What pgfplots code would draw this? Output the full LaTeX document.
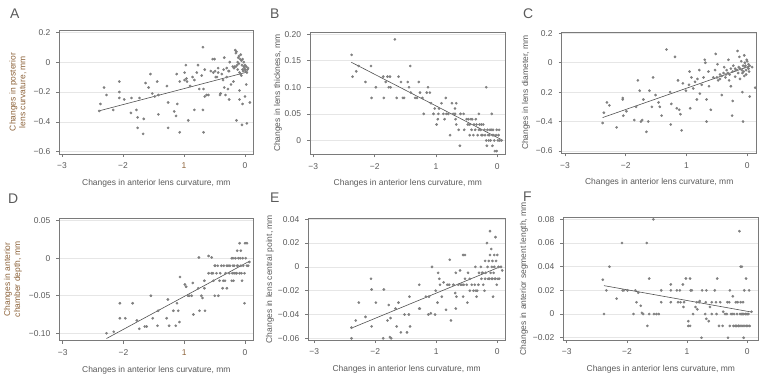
\documentclass[border=0pt]{standalone}
\usepackage{pgfplots}
\pgfplotsset{compat=1.18}
\usepackage{fontspec}
\setmainfont{Liberation Sans}
\definecolor{txt}{HTML}{5A5A5A}
\definecolor{lab}{HTML}{8C6239}
\definecolor{pt}{HTML}{7F7F7F}
\definecolor{framec}{HTML}{7A7A7A}
\definecolor{gridc}{HTML}{E6E6E6}
\definecolor{fitc}{HTML}{505050}
\pgfplotsset{
 panel/.style={
  scale only axis, anchor=south west, scaled ticks=false,
  axis line style={framec, line width=0.6bp},
  tick pos=left, tick align=outside,
  major tick length=3bp,
  every tick/.style={framec, line width=0.6bp},
  ymajorgrids, grid style={gridc, line width=0.6bp},
  xtick={-3,-2,-1,0},
  xticklabels={−3,−2,1,0},
  tick label style={font=\fontsize{8.5}{10}\selectfont, text=txt},
  xticklabel style={yshift=-2.5bp},
  yticklabel style={xshift=-2.5bp},
  label style={font=\fontsize{8.5}{10}\selectfont, text=txt},
  xlabel={Changes in anterior lens curvature, mm},
  xlabel style={at={(axis description cs:0.5,0)}, anchor=base, yshift=-31.5bp},
 },
 pts/.style={only marks, mark=*, mark size=1.15bp, color=pt, mark options={draw=pt, fill=pt}},
 fitl/.style={no marks, color=fitc, line width=0.6bp},
}
\begin{document}
\begin{tikzpicture}
\useasboundingbox (0bp,0bp) rectangle (768bp,387bp);
\tikzset{letter/.style={anchor=base west, inner sep=0pt, font=\fontsize{14}{14}\selectfont, text=txt}}
\node[letter] at (10bp,368.7bp) {A};
\node[letter] at (270bp,368.7bp) {B};
\node[letter] at (523bp,368.7bp) {C};
\node[letter] at (8bp,183.7bp) {D};
\node[letter] at (270bp,184.7bp) {E};
\node[letter] at (523bp,185.3bp) {F};

% ---------------- A
\begin{axis}[panel, at={(59.3bp,233bp)}, width=194bp, height=124bp,
  xmin=-3.044, xmax=0.136, ymin=-0.615, ymax=0.215,
  xticklabels={−3,−2,\textcolor{lab}{1},0},
  ytick={-0.6,-0.4,-0.2,0,0.2}, yticklabels={−0.6,−0.4,−0.2,0,0.2},
  ylabel={Changes in posterior\\lens curvature, mm},
  ylabel style={at={(axis description cs:-0.213,0.5)}, anchor=center, align=center, text=lab}]
\addplot[pts] coordinates {
(-2.39,-0.327) (-2.37,-0.28) (-2.31,-0.17) (-2.27,-0.22) (-2.16,-0.32) (-2.06,-0.13) (-2.06,-0.20) (-2.06,-0.24)
(-1.98,-0.25) (-1.86,-0.24) (-1.87,-0.34) (-1.78,-0.32) (-1.76,-0.37) (-1.76,-0.44) (-1.73,-0.24) (-1.67,-0.48)
(-1.66,-0.38) (-1.63,-0.14) (-1.58,-0.17) (-1.55,-0.08) (-1.52,-0.21) (-1.48,-0.23) (-1.44,-0.13) (-1.42,-0.22)
(-1.42,-0.35) (-1.28,-0.16) (-1.26,-0.27) (-1.26,-0.44) (-1.16,-0.33) (-1.13,-0.36) (-1.11,-0.28) (-1.12,-0.08)
(-1.07,-0.13) (-1.07,-0.47) (-0.99,-0.07) (-0.99,-0.12) (-0.97,-0.02) (-0.96,-0.11) (-0.95,-0.13) (-0.93,-0.39)
(-0.90,-0.16) (-0.86,-0.10) (-0.83,-0.12) (-0.83,-0.32) (-0.79,-0.07) (-0.77,-0.02) (-0.75,-0.18) (-0.71,-0.09)
(-0.69,0.10) (-0.69,-0.32) (-0.68,-0.18) (-0.68,-0.47) (-0.66,-0.23) (-0.63,-0.22) (-0.60,-0.22) (-0.66,-0.05)
(-0.56,-0.06) (-0.53,0.02) (-0.52,-0.07) (-0.50,0.02) (-0.49,-0.06) (-0.48,-0.10) (-0.46,-0.10) (-0.44,-0.07)
(-0.44,-0.04) (-0.41,-0.22) (-0.40,-0.21) (-0.36,-0.12) (-0.34,0.03) (-0.34,-0.17) (-0.32,-0.22) (-0.30,-0.10)
(-0.28,-0.18) (-0.26,-0.25) (-0.26,-0.06) (-0.23,-0.15) (-0.25,0.00) (-0.19,-0.13) (-0.17,-0.03) (-0.16,0.08)
(-0.15,0.06) (-0.14,-0.39) (-0.11,0.03) (-0.09,-0.19) (-0.07,0.05) (-0.05,-0.42) (-0.04,-0.28) (0.00,-0.23)
(0.02,-0.15) (0.03,-0.41) (0.08,-0.27) (-0.09,-0.25)
(-0.20,-0.03) (-0.18,-0.04) (-0.15,-0.03) (-0.13,-0.02) (-0.12,0.00) (-0.10,-0.01) (-0.08,0.02) (-0.06,0.01)
(-0.05,-0.02) (-0.04,-0.05) (-0.03,-0.06) (-0.02,-0.03) (-0.01,-0.04) (0.00,-0.05) (0.01,-0.06) (0.02,-0.03)
(0.03,-0.07) (-0.07,-0.08) (-0.09,-0.07) (0.04,-0.05) (-0.12,-0.05) (-0.30,-0.04) (-0.35,-0.05) (-0.38,-0.08)
(-0.27,-0.06) (-0.10,0.04) (-0.14,0.07) (-0.02,0.00) (0.00,-0.02) (0.05,-0.04) (-0.06,-0.09) (-0.04,0.02)
};
\addplot[fitl] coordinates {(-2.38,-0.325) (0.05,-0.065)};
\end{axis}

% ---------------- B
\begin{axis}[panel, at={(310bp,232.7bp)}, width=195.7bp, height=121.8bp,
  xmin=-3.054, xmax=0.137, ymin=-0.026, ymax=0.203,
  ytick={0,0.05,0.10,0.15,0.20}, yticklabels={0,0.05,0.10,0.15,0.20},
  ylabel={Changes in lens thickness, mm},
  ylabel style={at={(axis description cs:-0.1635,0.5)}, anchor=center}]
\addplot[pts] coordinates {
(-2.375,0.161) (-2.36,0.12) (-2.30,0.13) (-2.26,0.14) (-2.15,0.11) (-2.06,0.14) (-2.05,0.08) (-1.98,0.10)
(-1.86,0.12) (-1.85,0.08) (-1.82,0.11) (-1.79,0.12) (-1.77,0.10) (-1.75,0.12) (-1.74,0.10) (-1.67,0.19)
(-1.64,0.08) (-1.61,0.12) (-1.57,0.11) (-1.54,0.08) (-1.52,0.08) (-1.46,0.11) (-1.44,0.10) (-1.42,0.14)
(-1.41,0.09) (-1.34,0.08) (-1.31,0.08) (-1.28,0.11) (-1.26,0.09) (-1.22,0.08) (-1.20,0.05) (-1.15,0.09)
(-1.13,0.10) (-1.10,0.09) (-1.08,0.07) (-1.04,0.05) (-1.02,0.06) (-0.99,0.03) (-0.97,0.04) (-0.96,0.05)
(-0.95,0.06) (-0.91,0.07) (-0.88,0.05) (-0.86,0.04) (-0.84,0.08) (-0.83,0.05) (-0.80,0.05) (-0.77,0.01)
(-0.74,0.07) (-0.72,0.05) (-0.69,0.05) (-0.69,0.06) (-0.67,0.07) (-0.68,0.04) (-0.67,0.03) (-0.61,-0.01)
(-0.55,0.05) (-0.54,0.02) (-0.50,0.04) (-0.47,0.04) (-0.45,0.03) (-0.45,0.01) (-0.42,0.02) (-0.41,0.04)
(-0.39,0.01) (-0.36,0.02) (-0.35,0.04) (-0.34,0.03) (-0.32,0.01) (-0.30,0.05) (-0.29,0.03) (-0.27,0.02)
(-0.26,0.03) (-0.26,0.01) (-0.21,0.02) (-0.20,0.01) (-0.18,0.10) (-0.16,0.02) (-0.15,0.01) (-0.12,0.02)
(-0.11,0.00) (-0.09,0.05) (-0.08,-0.01) (-0.08,0.01) (-0.07,0.02) (-0.05,0.00) (-0.04,-0.02) (-0.02,0.01)
(-0.01,0.02) (0.01,0.00) (0.03,0.02) (0.04,0.00) (0.07,0.00) (-0.24,0.01) (-0.18,0.00) (-0.14,0.00)
(-0.17,-0.01) (0.02,0.01) (-0.01,-0.02) (-0.60,0.05) (-0.63,0.02) (-0.48,0.03) (-0.43,0.04) (-0.38,0.03)
(-0.30,0.02) (-0.23,0.03) (-0.10,0.02) (-0.13,0.01) (-0.06,0.01)
};
\addplot[fitl] coordinates {(-2.38,0.147) (0.06,0.002)};
\end{axis}

% ---------------- C
\begin{axis}[panel, at={(561.7bp,233.7bp)}, width=195bp, height=121bp,
  xmin=-3.054, xmax=0.155, ymin=-0.616, ymax=0.207,
  ytick={-0.6,-0.4,-0.2,0,0.2}, yticklabels={−0.6,−0.4,0.2,0,0.2},
  ylabel={Changes in lens diameter, mm},
  ylabel style={at={(axis description cs:-0.183,0.5)}, anchor=center}]
\addplot[pts] coordinates {
(-2.38,-0.41) (-2.36,-0.34) (-2.31,-0.27) (-2.27,-0.29) (-2.15,-0.44) (-2.05,-0.24) (-2.05,-0.25) (-2.04,-0.36)
(-1.99,-0.33) (-1.86,-0.39) (-1.83,-0.30) (-1.80,-0.12) (-1.77,-0.19) (-1.75,-0.40) (-1.73,-0.39) (-1.71,-0.25)
(-1.66,-0.47) (-1.63,-0.40) (-1.61,-0.19) (-1.57,-0.30) (-1.55,-0.10) (-1.51,-0.22) (-1.46,-0.27) (-1.44,-0.30)
(-1.41,-0.36) (-1.33,0.09) (-1.27,-0.20) (-1.26,-0.42) (-1.25,-0.28) (-1.19,0.04) (-1.16,-0.31) (-1.14,-0.12)
(-1.12,-0.32) (-1.10,-0.35) (-1.08,-0.46) (-1.06,-0.14) (-1.01,-0.19) (-0.96,-0.15) (-0.95,-0.06) (-0.94,-0.31)
(-0.92,-0.10) (-0.89,-0.175) (-0.86,-0.13) (-0.83,-0.25) (-0.82,-0.11) (-0.79,-0.05) (-0.78,-0.21) (-0.75,-0.15)
(-0.72,-0.10) (-0.70,0.02) (-0.69,0.00) (-0.67,-0.25) (-0.67,-0.40) (-0.64,-0.06) (-0.63,-0.16) (-0.60,-0.32)
(-0.56,-0.10) (-0.53,-0.05) (-0.52,0.06) (-0.49,-0.01) (-0.48,-0.12) (-0.45,-0.08) (-0.42,-0.22) (-0.39,-0.07)
(-0.38,-0.03) (-0.35,-0.08) (-0.34,-0.05) (-0.31,0.02) (-0.30,-0.12) (-0.29,-0.08) (-0.27,-0.16) (-0.25,-0.36)
(-0.24,-0.26) (-0.23,-0.02) (-0.20,-0.095) (-0.19,-0.05) (-0.16,0.08) (-0.15,-0.07) (-0.13,0.04) (-0.12,-0.11)
(-0.10,0.01) (-0.08,-0.20) (-0.07,-0.40) (-0.05,0.05) (-0.04,-0.03) (-0.02,-0.08) (0.00,0.01) (0.02,-0.04)
(0.04,-0.23) (0.08,-0.03) (0.13,-0.17)
(-0.12,-0.04) (-0.09,-0.05) (-0.07,-0.02) (-0.06,-0.06) (-0.04,0.00) (-0.03,-0.02) (-0.02,-0.05) (-0.01,0.02)
(0.01,-0.03) (0.02,-0.01) (0.03,-0.06) (0.04,-0.02) (-0.05,-0.09) (-0.08,-0.07) (-0.14,-0.03) (-0.17,-0.05)
(-0.20,-0.04) (-0.24,-0.06) (-0.27,-0.04) (-0.32,-0.07) (-0.36,-0.10) (-0.42,-0.09) (-0.45,-0.11) (-0.50,-0.10)
};
\addplot[fitl] coordinates {(-2.38,-0.373) (0.04,-0.023)};
\end{axis}

% ---------------- D
\begin{axis}[panel, at={(59.3bp,46.3bp)}, width=194bp, height=122.4bp,
  xmin=-3.056, xmax=0.135, ymin=-0.1099, ymax=0.0532,
  xticklabels={−3,−2,\textcolor{lab}{1},0},
  ytick={-0.10,-0.05,0,0.05}, yticklabels={−0.10,−0.05,0,0.05},
  ylabel={Changes in anterior\\chamber depth, mm},
  ylabel style={at={(axis description cs:-0.239,0.5)}, anchor=center, align=center, text=lab}]
\addplot[pts] coordinates {
(-2.28,-0.10) (-2.16,-0.098) (-2.06,-0.06) (-2.06,-0.08) (-1.97,-0.08) (-1.85,-0.06) (-1.78,-0.083) (-1.74,-0.094)
(-1.65,-0.091) (-1.62,-0.091) (-1.55,-0.05) (-1.52,-0.08) (-1.44,-0.09) (-1.43,-0.07) (-1.29,-0.08) (-1.27,-0.055)
(-1.25,-0.09) (-1.18,-0.07) (-1.14,-0.09) (-1.12,-0.06) (-1.10,-0.07) (-1.08,-0.085) (-1.07,-0.025) (-0.99,-0.035)
(-0.97,-0.038) (-0.94,-0.05) (-0.92,-0.05) (-0.88,-0.05) (-0.86,-0.033) (-0.85,-0.075) (-0.77,-0.04) (-0.76,0.001)
(-0.75,-0.07) (-0.72,-0.05) (-0.70,-0.053) (-0.67,-0.03) (-0.67,-0.04) (-0.66,-0.07) (-0.60,0.003) (-0.55,0.001)
(-0.53,-0.02) (-0.52,-0.03) (-0.50,-0.05) (-0.49,-0.01) (-0.47,-0.02) (-0.45,-0.01) (-0.44,-0.05) (-0.42,-0.03)
(-0.41,-0.02) (-0.39,-0.01) (-0.37,-0.04) (-0.36,-0.03) (-0.33,-0.03) (-0.32,-0.02) (-0.30,-0.04) (-0.30,-0.01)
(-0.26,-0.02) (-0.25,-0.01) (-0.22,0.00) (-0.21,-0.02) (-0.19,-0.03) (-0.18,-0.01) (-0.16,0.00) (-0.15,-0.02)
(-0.13,0.01) (-0.13,-0.01) (-0.11,0.00) (-0.09,0.02) (-0.09,-0.02) (-0.07,-0.01) (-0.07,0.01) (-0.05,-0.03)
(-0.04,0.00) (-0.03,-0.01) (-0.01,-0.02) (-0.01,-0.06) (0.00,0.02) (0.01,0.00) (0.03,0.02) (0.03,-0.01)
(0.05,-0.01) (0.07,-0.005) (-0.60,-0.02) (-0.50,-0.01) (-0.55,-0.02) (-0.35,-0.01) (-0.28,-0.01) (-0.20,-0.01)
(-0.18,-0.02) (-0.14,-0.02) (-0.12,-0.01) (-0.06,-0.02) (-0.08,0.00) (-0.20,0.00) (-0.22,-0.03)
};
\addplot[fitl] coordinates {(-2.28,-0.107) (0.07,-0.004)};
\end{axis}

% ---------------- E
\begin{axis}[panel, at={(308.3bp,47bp)}, width=196.7bp, height=121.7bp,
  xmin=-3.098, xmax=0.126, ymin=-0.0614, ymax=0.0408,
  ytick={-0.06,-0.04,-0.02,0,0.02,0.04}, yticklabels={−0.06,−0.04,−0.02,0,0.02,0.04},
  ylabel={Changes in lens central point, mm},
  ylabel style={at={(axis description cs:-0.195,0.5)}, anchor=center}]
\addplot[pts] coordinates {
(-2.39,-0.06) (-2.39,-0.051) (-2.32,-0.045) (-2.27,-0.030) (-2.16,-0.042) (-2.07,-0.010) (-2.06,-0.019) (-2.06,-0.050)
(-1.99,-0.030) (-1.87,-0.06) (-1.86,-0.019) (-1.80,-0.045) (-1.78,-0.032) (-1.76,-0.059) (-1.74,-0.06) (-1.75,-0.043)
(-1.67,-0.035) (-1.65,-0.050) (-1.62,-0.030) (-1.58,-0.055) (-1.52,-0.040) (-1.48,-0.055) (-1.45,-0.040) (-1.44,-0.025)
(-1.43,-0.050) (-1.28,-0.015) (-1.28,-0.035) (-1.27,-0.035) (-1.17,-0.025) (-1.12,-0.025) (-1.13,-0.040) (-1.09,-0.039)
(-1.07,0.000) (-1.02,-0.040) (-1.01,-0.020) (-0.98,-0.030) (-0.97,-0.005) (-0.95,-0.010) (-0.94,-0.015) (-0.91,-0.025)
(-0.88,-0.013) (-0.84,-0.036) (-0.82,-0.015) (-0.79,-0.015) (-0.78,0.006) (-0.76,-0.045) (-0.72,-0.015) (-0.69,-0.022)
(-0.68,-0.005) (-0.68,-0.035) (-0.67,-0.025) (-0.64,-0.015) (-0.61,-0.003) (-0.58,-0.015) (-0.56,0.010) (-0.56,-0.025)
(-0.53,0.010) (-0.53,-0.010) (-0.50,-0.015) (-0.49,-0.030) (-0.48,-0.005) (-0.45,-0.010) (-0.42,-0.015) (-0.39,-0.020)
(-0.37,-0.015) (-0.36,0.000) (-0.34,-0.025) (-0.33,-0.020) (-0.31,-0.015) (-0.30,-0.005) (-0.27,0.000) (-0.26,-0.010)
(-0.24,-0.005) (-0.23,-0.015) (-0.21,-0.020) (-0.20,0.005) (-0.19,-0.005) (-0.17,0.020) (-0.16,0.000) (-0.15,-0.010)
(-0.14,0.005) (-0.12,0.030) (-0.11,-0.005) (-0.10,0.015) (-0.09,0.000) (-0.08,0.005) (-0.08,-0.010) (-0.07,-0.025)
(-0.05,0.010) (-0.05,0.000) (-0.04,-0.010) (-0.03,0.025) (-0.02,0.005) (-0.01,-0.015) (0.00,0.010) (0.02,0.000)
(0.03,-0.010) (0.06,0.000) (0.08,-0.003) (-0.20,-0.010) (-0.13,-0.010) (-0.06,-0.005) (-0.03,-0.010) (0.01,-0.010)
(-0.12,0.010) (-0.09,-0.010) (-0.25,-0.005) (-0.35,-0.020) (-0.45,-0.020) (-0.55,-0.015) (-0.60,-0.015)
};
\addplot[fitl] coordinates {(-2.39,-0.0514) (0.07,0.0006)};
\end{axis}

% ---------------- F
\begin{axis}[panel, at={(563.3bp,47bp)}, width=195bp, height=122.7bp,
  xmin=-3.056, xmax=0.183, ymin=-0.0219, ymax=0.0817,
  ytick={-0.02,0,0.02,0.04,0.06,0.08}, yticklabels={−0.02,0,0.02,0.04,0.06,0.08},
  ylabel={Changes in anterior segment length, mm},
  ylabel style={at={(axis description cs:-0.2015,0.5)}, anchor=center}]
\addplot[pts] coordinates {
(-2.40,0.029) (-2.38,0.000) (-2.34,0.020) (-2.29,0.040) (-2.17,0.013) (-2.08,0.060) (-2.07,0.020) (-2.05,0.020)
(-1.99,0.020) (-1.89,0.000) (-1.86,0.020) (-1.84,0.010) (-1.81,0.018) (-1.77,0.007) (-1.75,0.001) (-1.73,0.000)
(-1.67,0.060) (-1.66,-0.010) (-1.63,0.030) (-1.63,0.000) (-1.56,0.080) (-1.55,0.000) (-1.51,0.000) (-1.47,0.000)
(-1.43,0.020) (-1.43,0.010) (-1.27,0.025) (-1.27,0.020) (-1.27,0.010) (-1.17,0.020) (-1.15,0.010) (-1.12,0.020)
(-1.11,0.010) (-1.07,0.025) (-1.06,0.006) (-1.05,0.010) (-1.02,0.030) (-0.98,-0.006) (-0.98,-0.010) (-0.95,-0.010)
(-0.95,0.030) (-0.94,0.020) (-0.92,0.020) (-0.90,0.000) (-0.86,0.006) (-0.84,0.010) (-0.83,0.004) (-0.80,0.010)
(-0.79,0.011) (-0.76,-0.020) (-0.75,0.020) (-0.70,0.000) (-0.69,0.010) (-0.68,-0.004) (-0.68,0.020) (-0.64,-0.006)
(-0.62,0.006) (-0.59,0.010) (-0.59,0.000) (-0.54,0.020) (-0.52,0.010) (-0.51,0.000) (-0.50,0.030) (-0.47,-0.010)
(-0.45,0.010) (-0.41,-0.010) (-0.40,0.002) (-0.37,0.000) (-0.34,0.000) (-0.33,0.010) (-0.32,-0.020) (-0.30,0.010)
(-0.29,-0.010) (-0.29,0.020) (-0.27,0.000) (-0.24,0.015) (-0.22,0.000) (-0.20,-0.010) (-0.19,0.010) (-0.18,-0.010)
(-0.16,0.010) (-0.15,-0.010) (-0.13,0.070) (-0.12,0.000) (-0.11,0.010) (-0.11,0.040) (-0.09,0.040) (-0.09,-0.010)
(-0.08,0.000) (-0.07,0.010) (-0.06,-0.020) (-0.05,0.020) (-0.04,-0.010) (-0.03,0.000) (-0.02,0.030) (-0.01,-0.010)
(0.00,0.000) (0.03,0.020) (0.04,-0.010) (0.07,0.002) (-0.25,0.000) (-0.17,0.000) (-0.14,-0.010) (-0.10,0.000)
(-0.06,0.000) (-0.02,0.000) (0.02,0.000) (0.01,-0.010) (-0.07,-0.010) (-0.12,-0.010) (-0.23,-0.010)
};
\addplot[fitl] coordinates {(-2.38,0.024) (0.07,0.0017)};
\end{axis}
\end{tikzpicture}
\end{document}
